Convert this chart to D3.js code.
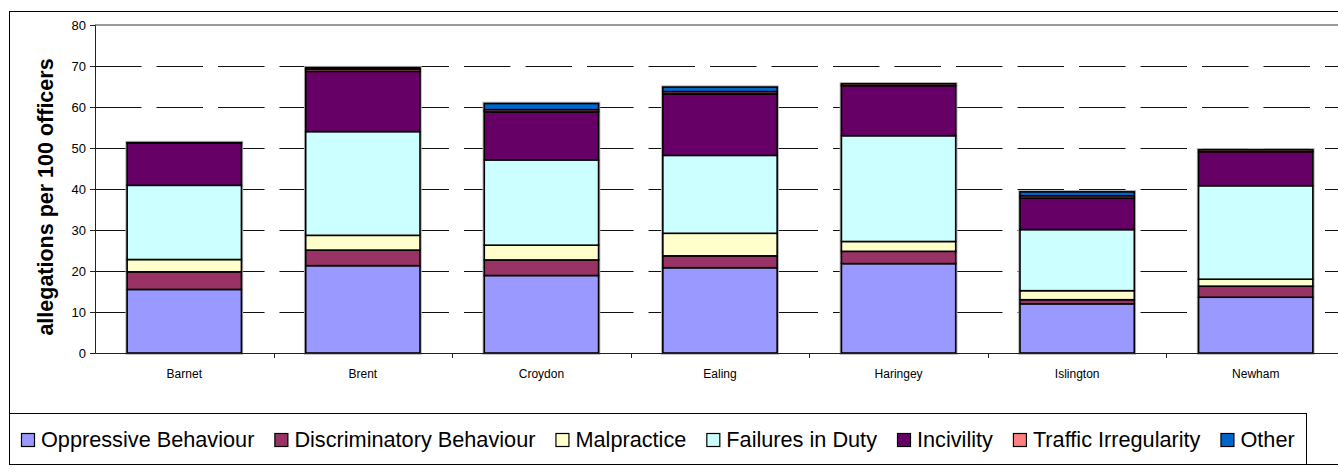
<!DOCTYPE html>
<html lang="en">
	<head>
		<meta charset="utf-8">
		<title>Allegations per 100 officers</title>
		<script type="text/javascript" src="https://cdn.jsdelivr.net/npm/d3@7"></script>
		<style type="text/css">
			body {
				margin: 0px;
				background: white;
			}
			text {
				font-family: "Liberation Sans", Arial, sans-serif;
			}
			.tick text {
				font-size: 12px;
				fill: #000;
			}
		</style>
	</head>
	<body>
		<div id="chart"></div>
		<script type="text/javascript">
			//Data
			var boroughs = ["Barnet", "Brent", "Croydon", "Ealing", "Haringey", "Islington", "Newham"];
			var seriesNames = ["Oppressive Behaviour", "Discriminatory Behaviour", "Malpractice",
				"Failures in Duty", "Incivility", "Traffic Irregularity", "Other"];
			var oppressive     = [15.5, 21.3, 18.9, 20.8, 21.8, 12.0, 13.6];
			var discriminatory = [4.3, 3.8, 3.8, 2.9, 3.0, 1.0, 2.7];
			var malpractice    = [3.0, 3.6, 3.6, 5.5, 2.4, 2.2, 1.7];
			var failures       = [18.1, 25.3, 20.8, 19.0, 25.8, 14.9, 22.8];
			var incivility     = [10.3, 14.7, 11.7, 15.0, 12.2, 7.7, 8.3];
			var traffic        = [0.1, 0.5, 0.55, 0.55, 0.45, 0.55, 0.45];
			var other          = [0, 0.4, 1.5, 1.1, 0, 0.95, 0];
			var yTicks = [0, 10, 20, 30, 40, 50, 60, 70, 80];

			var seriesValues = [oppressive, discriminatory, malpractice, failures, incivility, traffic, other];
			var colors = ["#9999FF", "#993366", "#FFFFCC", "#CCFFFF", "#660066", "#FF8080", "#0066CC"];

			//Width and height
			var w = 1338;
			var h = 472;
			var plot = {left: 95, right: 1345, top: 25, bottom: 353};

			var svg = d3.select("#chart")
				.append("svg")
				.attr("width", w)
				.attr("height", h);

			//Outer chart border
			svg.append("rect")
				.attr("x", 9.5)
				.attr("y", 11.5)
				.attr("width", 1360)
				.attr("height", 453)
				.attr("fill", "white")
				.attr("stroke", "#000")
				.attr("stroke-width", 1);

			//Build table for the stack
			var table = boroughs.map(function(b, i) {
				var row = {borough: b};
				seriesNames.forEach(function(s, j) { row[s] = seriesValues[j][i]; });
				return row;
			});
			var stacked = d3.stack().keys(seriesNames)(table);

			//Scales
			var x = d3.scaleBand()
				.domain(boroughs)
				.range([plot.left, plot.right])
				.paddingInner(0.36)
				.paddingOuter(0.18);

			var y = d3.scaleLinear()
				.domain([0, 80])
				.range([plot.bottom, plot.top]);

			//Gridlines (dashed)
			svg.append("g")
				.selectAll("line")
				.data(yTicks.filter(function(d) { return d > 0 && d < 80; }))
				.enter()
				.append("line")
				.attr("x1", plot.left)
				.attr("x2", plot.right)
				.attr("y1", function(d) { return Math.round(y(d)) + 0.5; })
				.attr("y2", function(d) { return Math.round(y(d)) + 0.5; })
				.attr("stroke", "#111")
				.attr("stroke-width", 1)
				.attr("stroke-dasharray", "46.5,15");

			//Top plot border
			svg.append("line")
				.attr("x1", plot.left)
				.attr("x2", plot.right)
				.attr("y1", y(80))
				.attr("y2", y(80))
				.attr("stroke", "#9a9a9a")
				.attr("stroke-width", 2);

			//Bar halo
			svg.append("g")
				.selectAll("rect")
				.data(table)
				.enter()
				.append("rect")
				.attr("x", function(d) { return x(d.borough); })
				.attr("width", x.bandwidth())
				.attr("y", function(d, i) { return y(stacked[stacked.length - 1][i][1]); })
				.attr("height", function(d, i) { return y(0) - y(stacked[stacked.length - 1][i][1]); })
				.attr("fill", "none")
				.attr("stroke", "#b0b0b0")
				.attr("stroke-width", 3.5);

			//Bars
			var layers = svg.append("g")
				.selectAll("g")
				.data(stacked)
				.enter()
				.append("g")
				.attr("fill", function(d, i) { return colors[i]; });

			layers.selectAll("rect")
				.data(function(d) { return d.filter(function(p) { return p[1] - p[0] > 0; }); })
				.enter()
				.append("rect")
				.attr("x", function(d) { return x(d.data.borough); })
				.attr("width", x.bandwidth())
				.attr("y", function(d) { return y(d[1]); })
				.attr("height", function(d) { return y(d[0]) - y(d[1]); })
				.attr("stroke", "#000")
				.attr("stroke-width", 1.6);

			//Y axis
			var yAxis = svg.append("g")
				.attr("transform", "translate(" + plot.left + ",0)")
				.call(d3.axisLeft(y).tickValues(yTicks).tickSize(5).tickPadding(4));
			yAxis.select(".domain").attr("stroke", "#222");
			yAxis.selectAll(".tick line").attr("stroke", "#222");
			yAxis.selectAll(".tick text").style("font-size", "13px");

			//X axis
			var xAxis = svg.append("g")
				.attr("transform", "translate(0," + plot.bottom + ")")
				.call(d3.axisBottom(x).tickSize(0).tickPadding(16).tickSizeOuter(0));
			xAxis.select(".domain").attr("stroke", "#222");
			xAxis.selectAll(".tick text").style("font-size", "12px");

			//Category boundary ticks
			var step = x.step();
			svg.append("g")
				.selectAll("line")
				.data(boroughs)
				.enter()
				.append("line")
				.attr("x1", function(d) { return Math.round(x(d) + x.bandwidth() + (step - x.bandwidth()) / 2) + 0.5; })
				.attr("x2", function(d) { return Math.round(x(d) + x.bandwidth() + (step - x.bandwidth()) / 2) + 0.5; })
				.attr("y1", plot.bottom)
				.attr("y2", plot.bottom + 5)
				.attr("stroke", "#222");

			//Y axis title
			svg.append("text")
				.attr("transform", "translate(53,197) rotate(-90)")
				.attr("text-anchor", "middle")
				.style("font-size", "21.5px")
				.style("font-weight", "bold")
				.text("allegations per 100 officers");

			//Legend
			var legend = svg.append("g");
			legend.append("rect")
				.attr("x", 9.5)
				.attr("y", 413.5)
				.attr("width", 1297)
				.attr("height", 51)
				.attr("fill", "white")
				.attr("stroke", "#000");

			var lx = 21;
			seriesNames.forEach(function(s, i) {
				legend.append("rect")
					.attr("x", lx + 0.5)
					.attr("y", 433.5)
					.attr("width", 13)
					.attr("height", 13)
					.attr("fill", colors[i])
					.attr("stroke", "#000")
					.attr("stroke-width", 1.2);
				var t = legend.append("text")
					.attr("x", lx + 20)
					.attr("y", 447)
					.style("font-size", "21.7px")
					.text(s);
				lx = lx + 20 + t.node().getComputedTextLength() + 20;
			});
		</script>
	</body>
</html>
